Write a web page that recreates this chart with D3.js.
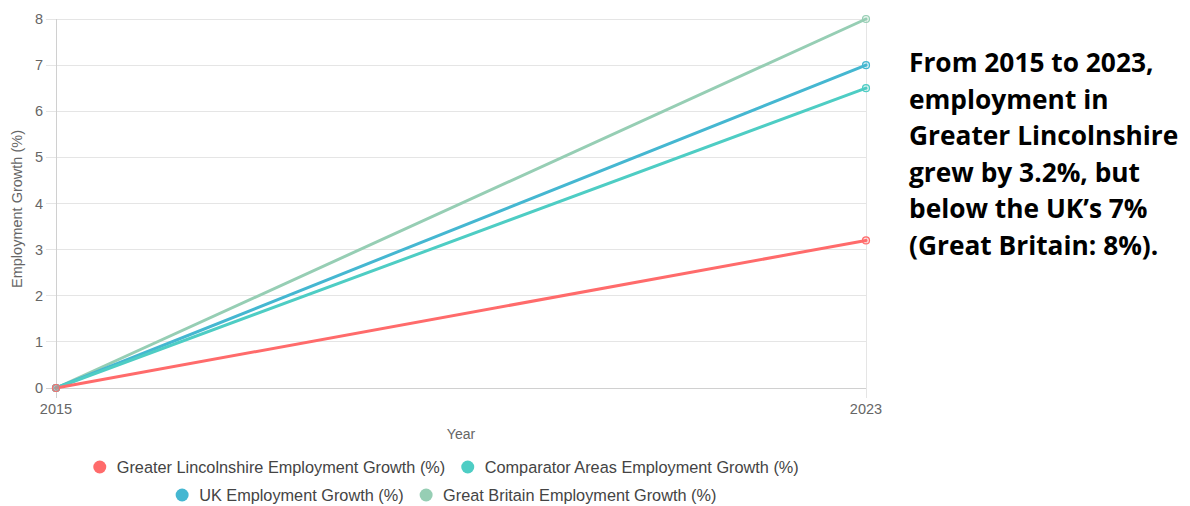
<!DOCTYPE html>
<html>
<head>
<meta charset="utf-8">
<script src="https://cdn.jsdelivr.net/npm/d3@7/dist/d3.min.js"></script>
<style>
  html, body { margin: 0; padding: 0; background: #fff; }
  svg { display: block; }
</style>
</head>
<body>
<svg id="chart" width="1190" height="506"></svg>
<script>
// Employment growth, 2015 baseline to 2023
const years = ["2015", "2023"];
const yTicks = [0, 1, 2, 3, 4, 5, 6, 7, 8];
const seriesNames = [
  "Greater Lincolnshire Employment Growth (%)",
  "Comparator Areas Employment Growth (%)",
  "UK Employment Growth (%)",
  "Great Britain Employment Growth (%)"
];
const lincolnshire = [0, 3.2];
const comparator = [0, 6.5];
const uk = [0, 7];
const greatBritain = [0, 8];
const seriesColors = ["#ff6b6b", "#4ecdc4", "#45b7d1", "#96ceb4"];
const summaryLines = [
  "From 2015 to 2023,",
  "employment in",
  "Greater Lincolnshire",
  "grew by 3.2%, but",
  "below the UK\u2019s 7%",
  "(Great Britain: 8%)."
];

const series = [lincolnshire, comparator, uk, greatBritain].map((vals, i) => ({
  name: seriesNames[i], color: seriesColors[i],
  points: vals.map((v, j) => ({ year: years[j], value: v }))
}));

const svg = d3.select("#chart");
const font = "'Liberation Sans', Arial, Helvetica, sans-serif";
const tickColor = "#666";
const gridColor = "#e5e5e5";

const x = d3.scalePoint().domain(years).range([56, 866]);
const y = d3.scaleLinear().domain([0, 8]).range([388, 19]);

const g = svg.append("g");

// horizontal grid + tick marks
g.selectAll("line.hgrid").data(yTicks).join("line")
  .attr("x1", 46).attr("x2", 866)
  .attr("y1", d => y(d)).attr("y2", d => y(d))
  .attr("stroke", d => d === 0 ? "#d0d0d0" : gridColor).attr("stroke-width", 1)
  .attr("shape-rendering", "crispEdges");

// vertical grid + tick marks
g.selectAll("line.vgrid").data(years).join("line")
  .attr("x1", d => x(d)).attr("x2", d => x(d))
  .attr("y1", 19).attr("y2", 398)
  .attr("stroke", (d, i) => i === 0 ? "#d0d0d0" : gridColor).attr("stroke-width", 1)
  .attr("shape-rendering", "crispEdges");

// y tick labels
g.selectAll("text.ytick").data(yTicks).join("text")
  .attr("x", 43).attr("y", d => y(d)).attr("dy", "0.35em")
  .attr("text-anchor", "end")
  .attr("font-family", font).attr("font-size", 14.5).attr("fill", tickColor)
  .text(d => d);

// x tick labels
g.selectAll("text.xtick").data(years).join("text")
  .attr("x", d => x(d)).attr("y", 414)
  .attr("text-anchor", "middle")
  .attr("font-family", font).attr("font-size", 14.5).attr("fill", tickColor)
  .text(d => d);

// axis titles
g.append("text")
  .attr("x", 461).attr("y", 439).attr("text-anchor", "middle")
  .attr("font-family", font).attr("font-size", 14).attr("fill", tickColor)
  .text("Year");
g.append("text")
  .attr("transform", "translate(22,209) rotate(-90)")
  .attr("text-anchor", "middle")
  .attr("font-family", font).attr("font-size", 14.5).attr("fill", tickColor)
  .text("Employment Growth (%)");

// lines (first series drawn last so it sits on top)
const line = d3.line().x(d => x(d.year)).y(d => y(d.value));
const drawOrder = series.slice().reverse();
const lines = g.append("g");
drawOrder.forEach(s => {
  lines.append("path")
    .attr("d", line(s.points))
    .attr("fill", "none").attr("stroke", s.color).attr("stroke-width", 3)
    .attr("stroke-linecap", "round");
});
drawOrder.forEach(s => {
  lines.selectAll(null).data(s.points).join("circle")
    .attr("cx", d => x(d.year)).attr("cy", d => y(d.value)).attr("r", 3.5)
    .attr("fill", d3.color(s.color).copy({ opacity: 0.25 }))
    .attr("stroke", s.color).attr("stroke-width", 1.2);
});

// legend: two centred rows
const legendRows = [{ y: 467, items: [0, 1] }, { y: 495, items: [2, 3] }];
const legendCenter = 446, r = 6.5, textGap = 17, itemGap = 16;
const legend = g.append("g");
legendRows.forEach(row => {
  const texts = row.items.map(i => legend.append("text")
    .attr("y", row.y).attr("dy", "0.35em")
    .attr("font-family", font).attr("font-size", 16.3).attr("fill", "#444")
    .text(series[i].name));
  const widths = texts.map(t => t.node().getComputedTextLength());
  const itemWidths = widths.map(w => r + textGap + w);
  const total = d3.sum(itemWidths) + itemGap * (itemWidths.length - 1);
  let left = legendCenter - total / 2;
  row.items.forEach((i, k) => {
    legend.append("circle")
      .attr("cx", left + r).attr("cy", row.y).attr("r", r)
      .attr("fill", series[i].color);
    texts[k].attr("x", left + r + textGap);
    left += itemWidths[k] + itemGap;
  });
});

// summary text
svg.append("g").selectAll("text").data(summaryLines).join("text")
  .attr("x", 909).attr("y", (d, i) => 72 + i * 36.6)
  .attr("font-family", "'Open Sans', 'Noto Sans', sans-serif")
  .attr("font-weight", 700).attr("font-size", 26.3).attr("fill", "#000")
  .text(d => d);
</script>
</body>
</html>
